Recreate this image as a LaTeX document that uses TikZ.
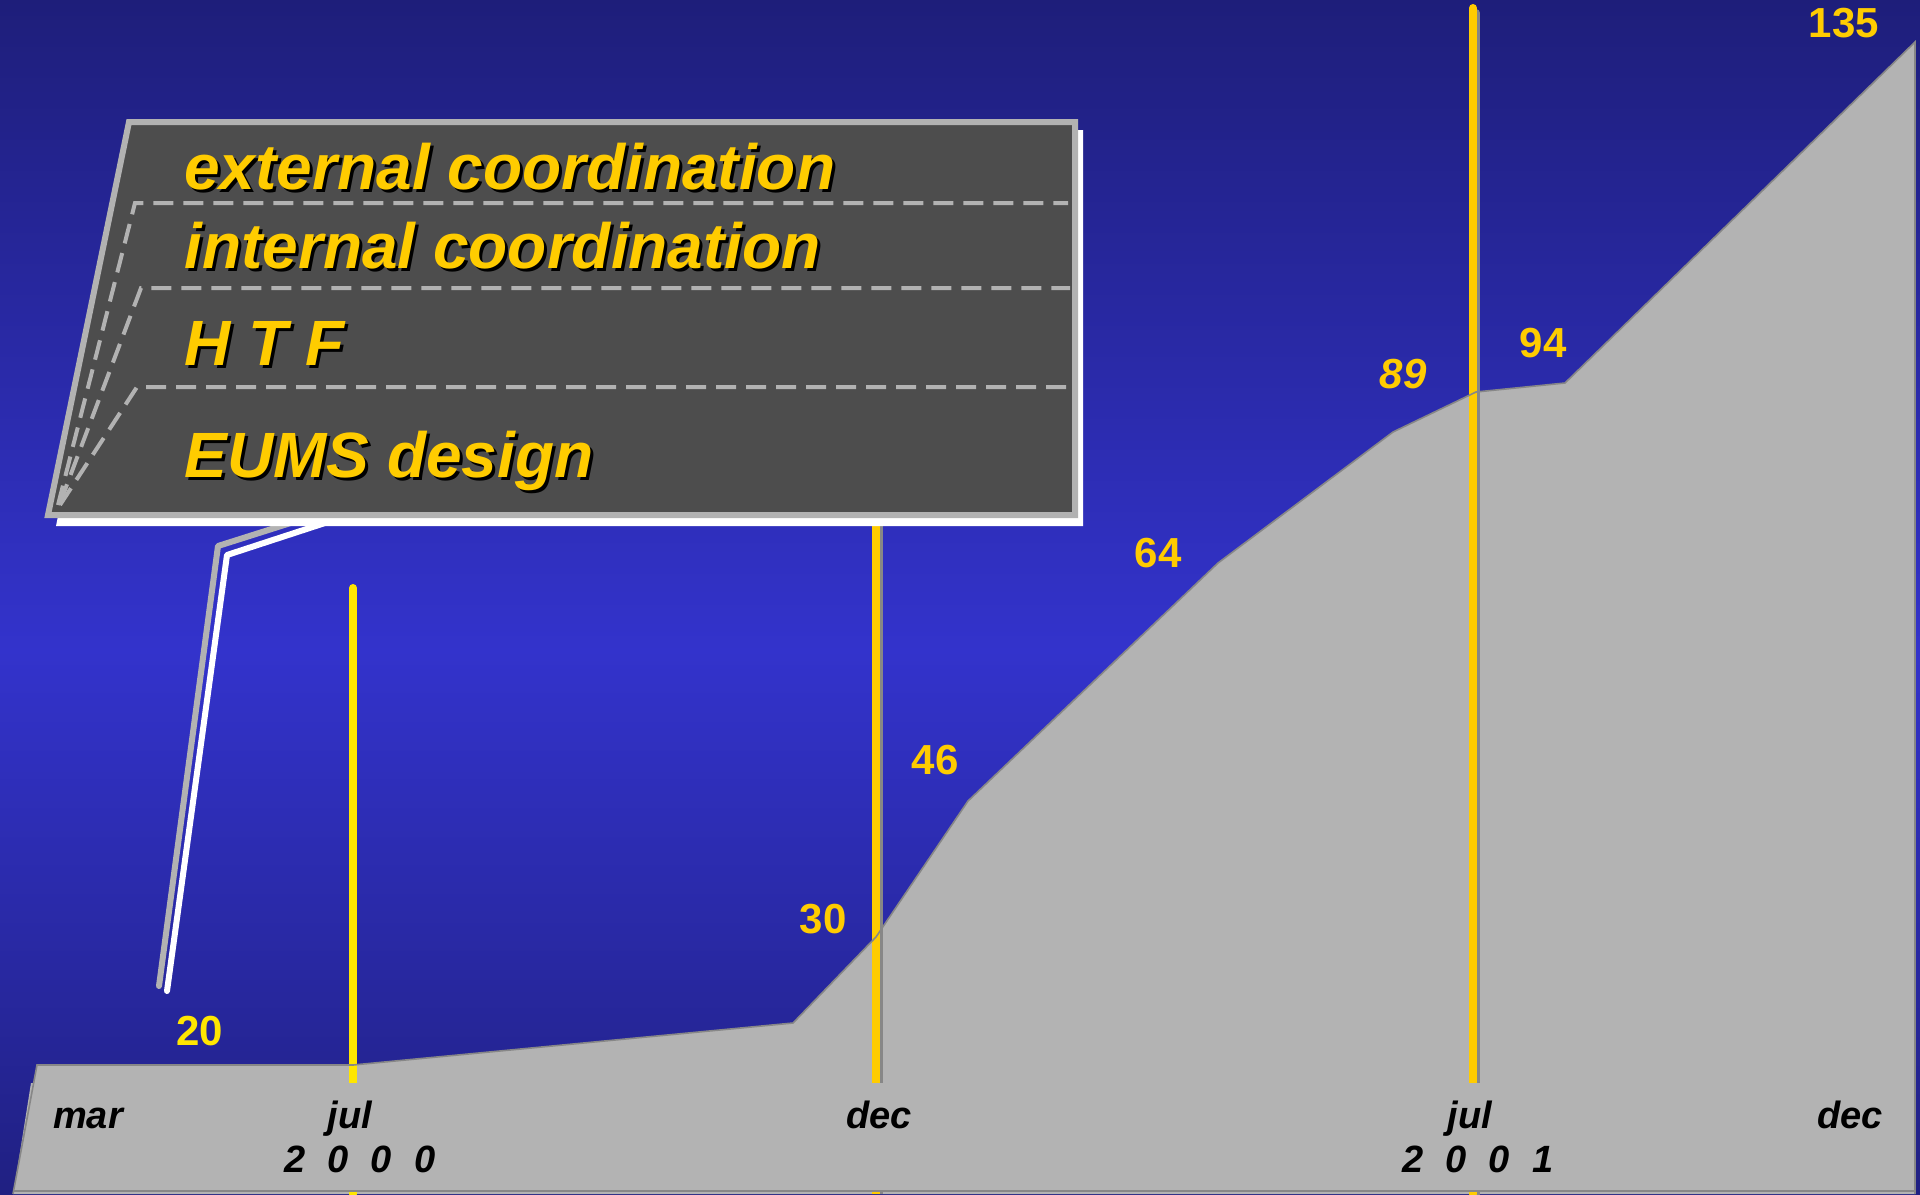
\documentclass[tikz,border=0pt]{standalone}
\usepackage{fontspec}
\setmainfont{Liberation Sans}
\definecolor{bgtop}{RGB}{30,30,122}
\definecolor{bgmid}{RGB}{51,51,204}
\definecolor{bgbot}{RGB}{32,32,130}
\definecolor{chartgray}{RGB}{179,179,179}
\definecolor{edgegray}{RGB}{135,135,135}
\definecolor{bordergray}{RGB}{178,178,178}
\definecolor{boxfill}{RGB}{77,77,77}
\definecolor{gold}{RGB}{255,204,0}
\definecolor{brightyellow}{RGB}{255,230,0}
\begin{document}
\begin{tikzpicture}[x=0.5pt,y=-0.5pt,
  boxtxt/.style={font=\fontsize{32}{38}\selectfont\bfseries\itshape, text=gold, inner sep=0pt, anchor=base west},
  boxshadow/.style={boxtxt, text=black},
  num/.style={font=\fontsize{21}{25}\selectfont\bfseries, text=gold, inner sep=0pt, anchor=base},
  axlbl/.style={font=\fontsize{19}{23}\selectfont\bfseries\itshape, text=black, inner sep=0pt, anchor=base},
  dashline/.style={draw=bordergray, line width=2pt, dash pattern=on 10pt off 5pt},
  yline/.style={line width=4pt},
  callout/.style={line width=3pt, line join=round, line cap=round}]
\useasboundingbox (0,0) rectangle (1920,1194);
% background
\shade[top color=bgtop, bottom color=bgmid] (0,0) rectangle (1920,651);
\shade[top color=bgmid, bottom color=bgbot] (0,650) rectangle (1920,1194);
% chart area
\fill[chartgray] (13,1194) -- (37,1065) -- (353,1065) -- (793,1023) -- (876,937) -- (968,801) -- (1218,563) -- (1393,432) -- (1476,392) -- (1565,383) -- (1915,42) -- (1915,1194) -- cycle;
% vertical marker lines
\draw[yline, brightyellow, line cap=round] (353,1194) -- (353,588);
\draw[yline, edgegray] (879,1194) -- (879,500);
\draw[yline, gold] (876,1194) -- (876,500);
\draw[yline, edgegray, line cap=round] (1476,1194) -- (1476,13);
\draw[yline, gold, line cap=round] (1473,1194) -- (1473,8);
% label band
\fill[chartgray] (31,1083) -- (1915,1083) -- (1915,1190) -- (14,1190) -- cycle;
\draw[edgegray, line width=0.8pt] (13,1194) -- (37,1065) -- (353,1065) -- (793,1023) -- (876,937) -- (968,801) -- (1218,563) -- (1393,432) -- (1476,392) -- (1565,383) -- (1915,42) -- (1915,1194);
\draw[edgegray, line width=0.8pt] (14,1191) -- (1915,1191);
% callout
\draw[callout, bordergray] (300,520) -- (218,546) -- (159,986);
\draw[callout, white] (328,522) -- (227,555) -- (167,991);
% box
\fill[white] (137,130) -- (1083,130) -- (1083,526) -- (56,526) -- cycle;
\filldraw[fill=boxfill, draw=bordergray, line width=3pt, line join=miter] (129,122) -- (1075,122) -- (1075,515) -- (48,515) -- cycle;
\draw[dashline] (58,505) -- (135,203) -- (1068,203);
\draw[dashline] (60,503) -- (141,288) -- (1070,288);
\draw[dashline] (60,505) -- (137,387) -- (1068,387);
% box texts
\node[boxshadow] at (187,192) {external coordination};
\node[boxtxt] (ext) at (184,189) {external coordination};
\node[boxshadow] at (187,271) {internal coordination};
\node[boxtxt] (int) at (184,268) {internal coordination};
\node[boxshadow] at (187,368) {H T F};
\node[boxtxt] (htf) at (184,365) {H T F};
\node[boxshadow] at (187,480) {EUMS design};
\node[boxtxt] (eums) at (184,477) {EUMS design};
% values
\node[num, text=brightyellow] (v20) at (200,1045) {20};
\node[num] (v30) at (823,933) {30};
\node[num] (v46) at (935,774) {46};
\node[num] (v64) at (1158,567) {64};
\node[num, font=\fontsize{21}{25}\selectfont\bfseries\itshape] (v89) at (1403,388) {89};
\node[num] (v94) at (1543,357) {94};
\node[num] (v135) at (1844,37) {135};
% axis labels
\node[axlbl] (mar) at (88,1128) {mar};
\node[axlbl] (jula) at (350,1128) {jul};
\node[axlbl] (ya) at (360,1172) {2\hspace{11pt}0\hspace{11pt}0\hspace{11pt}0};
\node[axlbl] (deca) at (879,1128) {dec};
\node[axlbl] (julb) at (1470,1128) {jul};
\node[axlbl] (yb) at (1478,1172) {2\hspace{11pt}0\hspace{11pt}0\hspace{11pt}1};
\node[axlbl] (decb) at (1850,1128) {dec};
\end{tikzpicture}
\end{document}
